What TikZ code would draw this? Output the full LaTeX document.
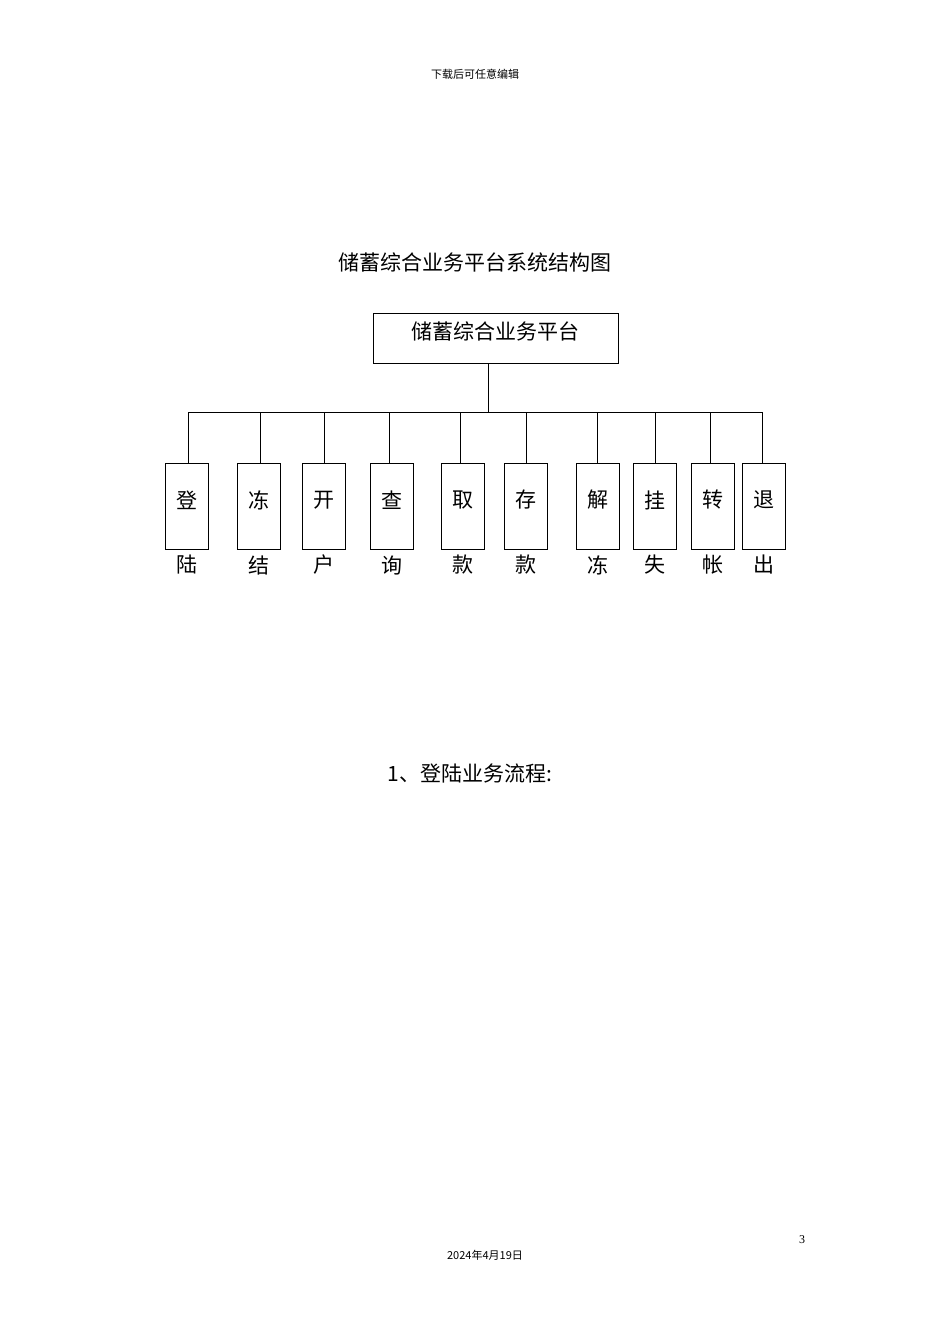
\documentclass[tikz,border=0pt]{standalone}
\usepackage{fontspec}
\setmainfont{Liberation Serif}
\newfontfamily\cjk{Noto Sans CJK SC}
\begin{document}
\begin{tikzpicture}[x=1pt,y=-1pt,
  sub/.style={draw,line width=0.8pt,minimum width=43pt,minimum height=86pt,inner sep=0pt},
  ln/.style={line width=0.8pt},
  big/.style={font=\cjk\fontsize{21}{21}\selectfont,inner sep=0pt}]
\useasboundingbox (0,0) rectangle (950,1344);
\node[font=\cjk\fontsize{11}{11}\selectfont] (hdr) at (475,74) {下载后可任意编辑};
\node[big] (title) at (475,262) {储蓄综合业务平台系统结构图};
\node[draw,ln,minimum width=245pt,minimum height=50pt,inner sep=0pt] (top) at (495.5,338) {};
\node[big] (toptext) at (495,331) {储蓄综合业务平台};
\coordinate (j) at (488,412);
\draw[ln] (488,363) -- (j);
\draw[ln] (188,412) -- (762,412);
\foreach \n/\bx/\lx/\a/\b in {1/186.5/188/登/陆,2/259/260/冻/结,3/324/324/开/户,4/392/389/查/询,5/462.5/460/取/款,6/525.5/526/存/款,7/597.5/597/解/冻,8/655/655/挂/失,9/712.5/710/转/帐,10/763.5/762/退/出}{
  \node[sub] (b\n) at (\bx,506) {};
  \node[big] (c\n) at (\bx,500) {\a};
  \node[big] (d\n) at (\bx,565) {\b};
  \draw[ln] (\lx,412) -- (\lx,463);
}
\node[font=\cjk\fontsize{21}{21}\selectfont] (sec) at (470,773) {1、登陆业务流程:};
\node[font=\fontsize{12}{12}\selectfont] (pg) at (802,1240) {3};
\node[font=\cjk\fontsize{11}{11}\selectfont] (date) at (485,1255) {2024年4月19日};
\end{tikzpicture}
\end{document}
